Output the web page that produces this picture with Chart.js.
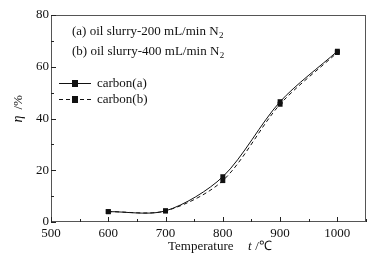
<!DOCTYPE html>
<html>
<head>
<meta charset="utf-8">
<script src="https://cdn.jsdelivr.net/npm/chart.js@4"></script>
<style>
  html, body { margin: 0; padding: 0; background: #fff; }
  #wrap { width: 378px; height: 263px; position: relative; }
</style>
</head>
<body>
<div id="wrap"><canvas id="etaChart"></canvas></div>
<script>
const temps = [600, 700, 800, 900, 1000];
const carbonA = [4.0, 4.3, 17.5, 46.5, 66.0];
const carbonB = [4.0, 4.3, 16.0, 45.5, 65.5];
const xTicks = [500, 600, 700, 800, 900, 1000];
const xMinor = [550, 650, 750, 850, 950, 1050];
const yTicks = [0, 20, 40, 60, 80];
const yMinor = [10, 30, 50, 70];

const serif = '"Liberation Serif", "Times New Roman", serif';

// frame, inward ticks, notes and legend drawn on top
const decor = {
    id: 'decor',
    afterDraw(chart) {
        const c = chart.ctx;
        const a = chart.chartArea;
        const xs = chart.scales.x, ys = chart.scales.y;
        c.save();
        c.strokeStyle = '#555';
        c.lineWidth = 1;
        c.strokeRect(a.left + 0.5, a.top + 0.5, a.right - a.left - 1, a.bottom - a.top - 1);

        c.strokeStyle = '#222';
        c.beginPath();
        xTicks.forEach(v => { const p = Math.round(xs.getPixelForValue(v)) + 0.5; c.moveTo(p, a.bottom); c.lineTo(p, a.bottom - 5); });
        xMinor.forEach(v => { const p = Math.round(xs.getPixelForValue(v)) + 0.5; c.moveTo(p, a.bottom); c.lineTo(p, a.bottom - 3); });
        yTicks.forEach(v => { const p = Math.round(ys.getPixelForValue(v)) + 0.5; c.moveTo(a.left, p); c.lineTo(a.left + 5, p); });
        yMinor.forEach(v => { const p = Math.round(ys.getPixelForValue(v)) + 0.5; c.moveTo(a.left, p); c.lineTo(a.left + 3, p); });
        c.stroke();

        c.fillStyle = '#111';
        c.textBaseline = 'alphabetic';
        c.textAlign = 'left';
        const note = (txt, x, y) => {
            c.font = '13px ' + serif;
            c.fillText(txt, x, y);
            const w = c.measureText(txt).width;
            c.font = '9px ' + serif;
            c.fillText('2', x + w + 0.5, y + 3);
        };
        note('(a) oil slurry-200 mL/min N', 72, 35);
        note('(b) oil slurry-400 mL/min N', 72, 55);

        const entry = (label, y, dash) => {
            c.strokeStyle = '#111';
            c.lineWidth = 1;
            c.setLineDash(dash);
            c.beginPath();
            c.moveTo(59, y + 0.5);
            c.lineTo(91, y + 0.5);
            c.stroke();
            c.setLineDash([]);
            c.fillRect(72, y - 3, 6, 7);
            c.font = '13px ' + serif;
            c.fillText(label, 97, y + 4);
        };
        entry('carbon(a)', 83, []);
        entry('carbon(b)', 99, [4, 3]);

        // axis titles
        c.font = '13px ' + serif;
        c.fillText('Temperature', 168, 250);
        c.font = 'italic 13px ' + serif;
        c.fillText('t', 248, 250);
        c.font = '13px ' + serif;
        c.fillText(' /\u2103', 252, 250);

        c.translate(22, 110);
        c.rotate(-Math.PI / 2);
        c.textAlign = 'center';
        c.font = 'italic 14px ' + serif;
        c.fillText('\u03b7', -9, 0);
        c.font = '13px ' + serif;
        c.fillText(' /%', 6, 0);
        c.restore();
    }
};

document.addEventListener('DOMContentLoaded', function () {
    const ctx = document.getElementById('etaChart');
    new Chart(ctx, {
        type: 'line',
        data: {
            datasets: [{
                label: 'carbon(a)',
                data: temps.map((t, i) => ({ x: t, y: carbonA[i] })),
                borderColor: '#111',
                backgroundColor: '#111',
                borderWidth: 1,
                tension: 0.3,
                pointStyle: 'rect',
                pointRadius: 3.5,
                pointBorderWidth: 0
            }, {
                label: 'carbon(b)',
                data: temps.map((t, i) => ({ x: t, y: carbonB[i] })),
                borderColor: '#111',
                backgroundColor: '#111',
                borderWidth: 1,
                borderDash: [4, 3],
                tension: 0.3,
                pointStyle: 'rect',
                pointRadius: 3.5,
                pointBorderWidth: 0
            }]
        },
        options: {
            responsive: true,
            maintainAspectRatio: false,
            animation: false,
            layout: { padding: { top: 15, right: 12, left: 0, bottom: 0 } },
            plugins: {
                legend: { display: false },
                tooltip: { enabled: false }
            },
            scales: {
                x: {
                    type: 'linear',
                    min: 500,
                    max: 1050,
                    afterBuildTicks: s => { s.ticks = xTicks.map(v => ({ value: v })); },
                    afterFit: s => { s.height = 41; },
                    grid: { display: false, drawTicks: false },
                    border: { display: false },
                    ticks: { color: '#111', padding: 4, maxRotation: 0, callback: v => String(v), font: { family: serif, size: 13 } }
                },
                y: {
                    min: 0,
                    max: 80,
                    afterBuildTicks: s => { s.ticks = yTicks.map(v => ({ value: v })); },
                    afterFit: s => { s.width = 51; },
                    grid: { display: false, drawTicks: false },
                    border: { display: false },
                    ticks: { color: '#111', padding: 2, font: { family: serif, size: 13 } }
                }
            }
        },
        plugins: [decor]
    });
});
</script>
</body>
</html>
